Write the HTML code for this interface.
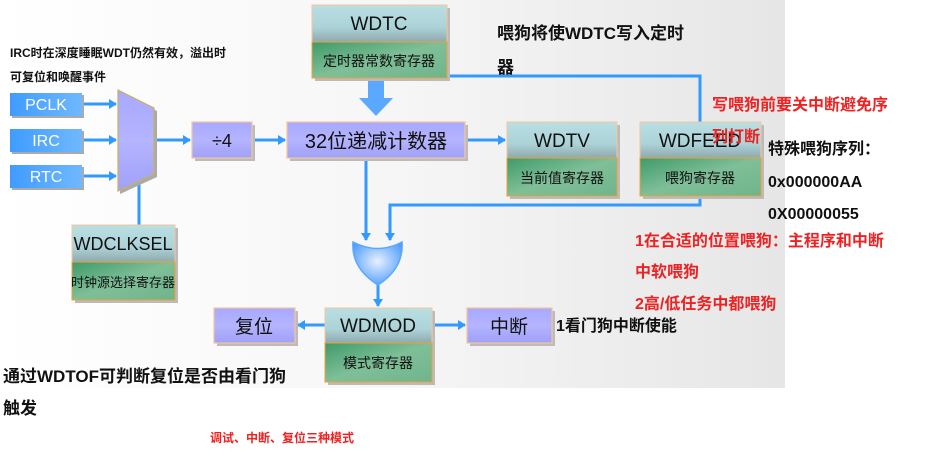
<!DOCTYPE html>
<html><head><meta charset="utf-8"><style>
html,body{margin:0;padding:0;width:933px;height:475px;overflow:hidden;background:#fff;}
svg text{font-family:"Liberation Sans","Noto Sans CJK SC",sans-serif;}
.b{font-weight:bold;}
</style></head><body>
<svg width="933" height="475" viewBox="0 0 933 475" xmlns="http://www.w3.org/2000/svg">
<defs>
<linearGradient id="bg" x1="0" y1="0" x2="1" y2="0">
<stop offset="0" stop-color="#ffffff"/><stop offset="0.5" stop-color="#f6f6f6"/><stop offset="1" stop-color="#e6e6e6"/></linearGradient>
<linearGradient id="teal" x1="0" y1="0" x2="0" y2="1">
<stop offset="0" stop-color="#b9dfe3"/><stop offset="0.6" stop-color="#acd3d8"/><stop offset="1" stop-color="#8fa9ad"/></linearGradient>
<linearGradient id="green" x1="0" y1="0" x2="1" y2="1">
<stop offset="0" stop-color="#3f9a6a"/><stop offset="0.5" stop-color="#7fbf98"/><stop offset="1" stop-color="#6fb48c"/></linearGradient>
<linearGradient id="purp" x1="0" y1="0" x2="0" y2="1">
<stop offset="0" stop-color="#a8a8ff"/><stop offset="0.5" stop-color="#b4b4ff"/><stop offset="1" stop-color="#a0a0f8"/></linearGradient>
<linearGradient id="blue" x1="0" y1="0" x2="1" y2="0">
<stop offset="0" stop-color="#3f9cff"/><stop offset="1" stop-color="#70b8ff"/></linearGradient>
<radialGradient id="gate" cx="0.5" cy="0.45" r="0.6">
<stop offset="0" stop-color="#e8f0ff"/><stop offset="1" stop-color="#4e9cff"/></radialGradient>
<marker id="ah" markerWidth="8" markerHeight="10" refX="7" refY="5" orient="auto" markerUnits="userSpaceOnUse">
<path d="M0,0 L8,5 L0,10 z" fill="#3399ff"/></marker>
</defs>
<rect x="0" y="0" width="785" height="388" fill="url(#bg)"/>

<g stroke="#3399ff" stroke-width="3" fill="none">
<line x1="84" y1="104" x2="116" y2="104" marker-end="url(#ah)"/>
<line x1="84" y1="140" x2="116" y2="140" marker-end="url(#ah)"/>
<line x1="84" y1="176" x2="116" y2="176" marker-end="url(#ah)"/>
<line x1="156" y1="140" x2="190" y2="140" marker-end="url(#ah)"/>
<line x1="253" y1="140" x2="285" y2="140" marker-end="url(#ah)"/>
<line x1="466" y1="140" x2="505" y2="140" marker-end="url(#ah)"/>
<line x1="139" y1="180" x2="139" y2="225"/>
<polyline points="447,76 700,76 700,205 390,205 390,240" marker-end="url(#ah)"/>
<line x1="366" y1="158" x2="366" y2="240" marker-end="url(#ah)"/>
<line x1="378" y1="282" x2="378" y2="306" marker-end="url(#ah)"/>
<line x1="325" y1="325" x2="298" y2="325" marker-end="url(#ah)"/>
<line x1="433" y1="325" x2="465" y2="325" marker-end="url(#ah)"/>
</g>
<path d="M368,78 L384,78 L384,98 L393,98 L376,116 L359,98 L368,98 z" fill="#5aa8ff"/>

<g fill="url(#blue)">
<rect x="12" y="95" width="72" height="23" fill="#aaa"/><rect x="10" y="93" width="72" height="23"/>
<rect x="12" y="131" width="72" height="23" fill="#aaa"/><rect x="10" y="129" width="72" height="23"/>
<rect x="12" y="167" width="72" height="23" fill="#aaa"/><rect x="10" y="165" width="72" height="23"/>
</g>
<g fill="#fff" font-size="16" text-anchor="middle">
<text x="46" y="110">PCLK</text><text x="46" y="146">IRC</text><text x="46" y="182">RTC</text></g>

<polygon points="120,93 157,111 157,177 120,194" fill="#aaa"/>
<polygon points="118,90 154,108 154,174 118,191" fill="url(#purp)" stroke="#c9b25a" stroke-width="1.2"/>

<g stroke="#f5c69a" stroke-width="1.2" fill="url(#purp)">
<rect x="195" y="125" width="60" height="36" fill="#bbb" stroke="none"/><rect x="192" y="122" width="60" height="36"/>
<rect x="290" y="125" width="178" height="36" fill="#bbb" stroke="none"/><rect x="287" y="122" width="178" height="36"/>
<rect x="217" y="311" width="81" height="35" fill="#bbb" stroke="none"/><rect x="214" y="308" width="81" height="35"/>
<rect x="470" y="311" width="85" height="35" fill="#bbb" stroke="none"/><rect x="467" y="308" width="85" height="35"/>
</g>
<g fill="#111" text-anchor="middle">
<text x="222" y="147" font-size="18">÷4</text>
<text x="376" y="148" font-size="20">32位递减计数器</text>
<text x="254" y="333" font-size="19">复位</text>
<text x="509" y="333" font-size="19">中断</text>
</g>

<g>
<rect x="315" y="8" width="135" height="73" fill="#bbb"/>
<rect x="312" y="5" width="135" height="37" fill="url(#teal)" stroke="#f5c69a"/>
<rect x="312" y="42" width="135" height="36" fill="url(#green)" stroke="#f0a030"/>
<rect x="510" y="125" width="110" height="74" fill="#bbb"/>
<rect x="507" y="122" width="110" height="36" fill="url(#teal)" stroke="#f5c69a"/>
<rect x="507" y="158" width="110" height="38" fill="url(#green)" stroke="#f0a030"/>
<rect x="643" y="125" width="121" height="74" fill="#bbb"/>
<rect x="640" y="122" width="121" height="36" fill="url(#teal)" stroke="#f5c69a"/>
<rect x="640" y="158" width="121" height="38" fill="url(#green)" stroke="#f0a030"/>
<rect x="75" y="228" width="103" height="75" fill="#bbb"/>
<rect x="72" y="225" width="103" height="37" fill="url(#teal)" stroke="#f5c69a"/>
<rect x="72" y="262" width="103" height="38" fill="url(#green)" stroke="#f0a030"/>
<rect x="328" y="311" width="107" height="74" fill="#bbb"/>
<rect x="325" y="308" width="107" height="35" fill="url(#teal)" stroke="#f5c69a"/>
<rect x="325" y="343" width="107" height="39" fill="url(#green)" stroke="#f0a030"/>
</g>
<g fill="#111" text-anchor="middle">
<text x="379" y="30" font-size="19">WDTC</text>
<text x="379" y="66" font-size="14">定时器常数寄存器</text>
<text x="562" y="147" font-size="19">WDTV</text>
<text x="562" y="183" font-size="14">当前值寄存器</text>
<text x="700" y="147" font-size="19">WDFEED</text>
<text x="700" y="183" font-size="14">喂狗寄存器</text>
<text x="123" y="250" font-size="18">WDCLKSEL</text>
<text x="123" y="287" font-size="13">时钟源选择寄存器</text>
<text x="378" y="332" font-size="19">WDMOD</text>
<text x="378" y="368" font-size="14">模式寄存器</text>
</g>

<path d="M353,242 Q378,255 402,242 Q404,268 378,285 Q351,268 353,242 z" fill="url(#gate)" stroke="#5aa8ff" stroke-width="1.5"/>

<g class="b" fill="#111">
<text x="10" y="57" font-size="12" class="b">IRC时在深度睡眠WDT仍然有效，溢出时</text>
<text x="10" y="81" font-size="12" class="b">可复位和唤醒事件</text>
<text x="497" y="39" font-size="17" class="b">喂狗将使WDTC写入定时</text>
<text x="497" y="73" font-size="17" class="b">器</text>
<text x="768" y="154" font-size="16" class="b">特殊喂狗序列：</text>
<text x="768" y="187" font-size="16" class="b">0x000000AA</text>
<text x="768" y="219" font-size="16" class="b">0X00000055</text>
<text x="556" y="331" font-size="16" class="b">1看门狗中断使能</text>
<text x="3" y="382" font-size="17" class="b">通过WDTOF可判断复位是否由看门狗</text>
<text x="3" y="414" font-size="17" class="b">触发</text>
</g>
<g fill="#ee2222">
<text x="712" y="110" font-size="16" class="b">写喂狗前要关中断避免序</text>
<text x="712" y="142" font-size="16" class="b">列打断</text>
<text x="635" y="246" font-size="16" class="b">1在合适的位置喂狗：主程序和中断</text>
<text x="635" y="277" font-size="16" class="b">中软喂狗</text>
<text x="635" y="309" font-size="16" class="b">2高/低任务中都喂狗</text>
<text x="210" y="442" font-size="12" class="b">调试、中断、复位三种模式</text>
</g>
</svg>
</body></html>
